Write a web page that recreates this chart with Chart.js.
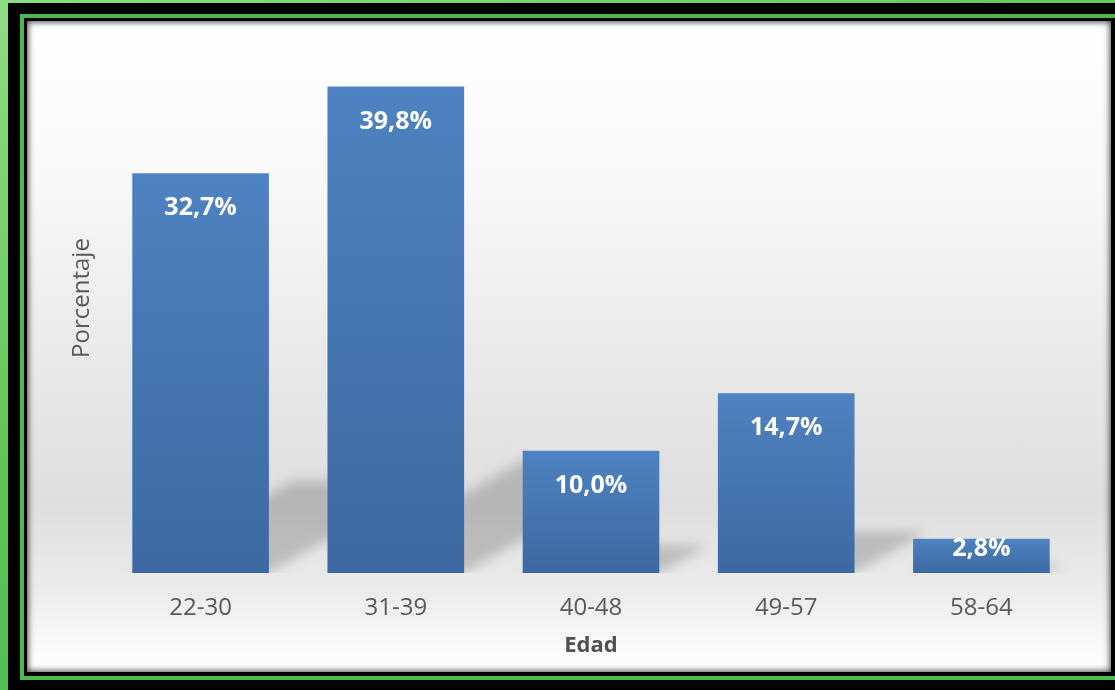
<!DOCTYPE html>
<html lang="es">
<head>
<meta charset="utf-8">
<title>Edad - Porcentaje</title>
<script src="https://cdn.jsdelivr.net/npm/chart.js@4.4.1/dist/chart.umd.min.js"></script>
<style>
  html, body {
    margin: 0;
    padding: 0;
    width: 1115px;
    height: 690px;
    overflow: hidden;
  }
  body {
    position: relative;
    background: linear-gradient(160deg, #8fdc82 0%, #5cc452 45%, #36b45a 100%);
  }
  #outerFrame {
    position: absolute;
    left: 8px;
    top: 3px;
    width: 1120px;
    height: 700px;
    background: #000;
  }
  #greenLine {
    position: absolute;
    left: 20px;
    top: 14px;
    width: 1110px;
    height: 658px;
    border: 4px solid #4cba50;
    background: #000;
  }
  #panel {
    position: absolute;
    left: 27px;
    top: 21px;
    width: 1084px;
    height: 651px;
    background: linear-gradient(to bottom, #ffffff 0%, #f8f8f8 25%, #e9e9e9 52%, #dedede 74%, #ececec 88%, #fbfbfb 97%, #ffffff 100%);
    box-shadow: inset 0 0 6px 1px rgba(0, 0, 0, 0.75);
  }
  #panel canvas {
    position: absolute;
    left: 0;
    top: 0;
  }
</style>
</head>
<body>
<div id="outerFrame"></div>
<div id="greenLine"></div>
<div id="panel">
  <canvas id="ageChart" width="1084" height="651"></canvas>
</div>

<script>
const ageGroups = ['22-30', '31-39', '40-48', '49-57', '58-64'];
const percentages = [32.7, 39.8, 10.0, 14.7, 2.8];
const yMax = 45;

const FONT = "'Open Sans', 'Noto Sans', sans-serif";

function formatPercent(value) {
  return value.toFixed(1).replace('.', ',') + '%';
}

// Per-bar vertical gradient, lighter at the top
function barGradient(context) {
  const { chart, parsed } = context;
  if (!chart.chartArea || !parsed) return '#4676b2';
  const yScale = chart.scales.y;
  const top = yScale.getPixelForValue(parsed.y);
  const bottom = yScale.getPixelForValue(0);
  const g = chart.ctx.createLinearGradient(0, top, 0, bottom);
  g.addColorStop(0, '#4f82c1');
  g.addColorStop(1, '#3c69a3');
  return g;
}

// Soft perspective shadow cast up and to the right of each bar
const barShadow = {
  id: 'barShadow',
  beforeDatasetsDraw(chart) {
    const ctx = chart.ctx;
    const meta = chart.getDatasetMeta(0);
    ctx.save();
    ctx.beginPath();
    ctx.rect(chart.chartArea.left, chart.chartArea.top, chart.chartArea.width, chart.chartArea.height);
    ctx.clip();
    ctx.filter = 'blur(6px)';
    ctx.fillStyle = 'rgba(0, 0, 0, 0.18)';
    meta.data.forEach(bar => {
      const { x, y, base, width } = bar.getProps(['x', 'y', 'base', 'width'], true);
      const h = base - y;
      const left = x - width / 2;
      const right = x + width / 2;
      const dx = h * 0.4;
      const dy = h * 0.23;
      ctx.beginPath();
      ctx.moveTo(left, base);
      ctx.lineTo(right, base);
      ctx.lineTo(right + dx, base - dy);
      ctx.lineTo(left + dx, base - dy);
      ctx.closePath();
      ctx.fill();
    });
    ctx.restore();
  }
};

// White value labels inside the top of each bar
const valueLabels = {
  id: 'valueLabels',
  afterDatasetsDraw(chart) {
    const ctx = chart.ctx;
    const meta = chart.getDatasetMeta(0);
    ctx.save();
    ctx.font = 'bold 25px ' + FONT;
    ctx.fillStyle = '#ffffff';
    ctx.textAlign = 'center';
    ctx.textBaseline = 'alphabetic';
    meta.data.forEach((bar, i) => {
      const { x, y, base } = bar.getProps(['x', 'y', 'base'], true);
      const baseline = Math.min(y + 42, base - 17);
      ctx.fillText(formatPercent(percentages[i]), x, baseline);
    });
    ctx.restore();
  }
};

const ctx = document.getElementById('ageChart').getContext('2d');

new Chart(ctx, {
  type: 'bar',
  data: {
    labels: ageGroups,
    datasets: [{
      label: 'Porcentaje',
      data: percentages,
      backgroundColor: barGradient,
      borderWidth: 0,
      categoryPercentage: 1,
      barPercentage: 0.7
    }]
  },
  options: {
    responsive: false,
    animation: false,
    devicePixelRatio: 1,
    layout: {
      padding: { left: 0, right: 32, top: 2, bottom: 0 }
    },
    plugins: {
      legend: { display: false },
      tooltip: { enabled: false }
    },
    scales: {
      x: {
        grid: { display: false, drawTicks: false },
        border: { display: false },
        ticks: {
          color: '#595959',
          font: { family: FONT, size: 24 },
          padding: 21
        },
        title: {
          display: true,
          text: 'Edad',
          color: '#505050',
          font: { family: FONT, size: 22, weight: 'bold' },
          padding: { top: 0, bottom: 13 }
        },
        afterFit(scale) {
          scale.height = 99;
        }
      },
      y: {
        min: 0,
        max: yMax,
        grid: { display: false, drawTicks: false },
        border: { display: false },
        ticks: { display: false },
        title: {
          display: true,
          text: 'Porcentaje',
          color: '#595959',
          font: { family: FONT, size: 24 },
          padding: { top: 41, bottom: 0 }
        },
        afterFit(scale) {
          scale.width = 76;
        }
      }
    }
  },
  plugins: [barShadow, valueLabels]
});
</script>
</body>
</html>
